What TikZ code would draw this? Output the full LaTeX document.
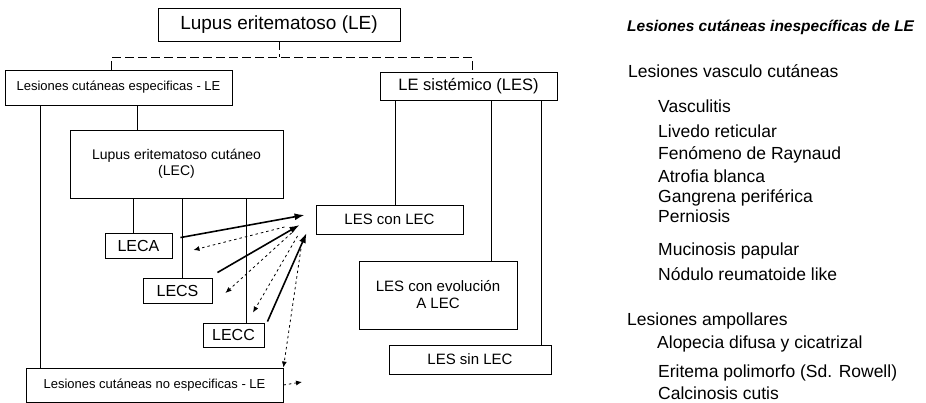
\documentclass[tikz,border=0pt]{standalone}
\usepackage{fontspec}
\setmainfont{Liberation Sans}
\usetikzlibrary{arrows.meta,positioning}

\newcommand{\setfs}[2]{\fontsize{#1}{#2}\selectfont}

\begin{document}
\begin{tikzpicture}[
  x=1pt, y=-1pt,
  box/.style={draw, line width=0.9pt, inner sep=0pt, align=center},
  link/.style={line width=1.6pt},
  tree/.style={line width=1pt, dash pattern=on 9pt off 4pt},
  arr/.style={-{Latex[length=10pt,width=7pt]}, line width=1.6pt},
  back/.style={-{Latex[length=6pt,width=5pt]}, line width=0.8pt, dash pattern=on 2.5pt off 3pt},
  item/.style={anchor=base west, inner sep=0pt, font=\setfs{17.5}{20}}
]
  \useasboundingbox (0,0) rectangle (926,403);

  % left tree
  \node[box, minimum width=242pt, minimum height=33pt, font=\setfs{19}{22}] (le) at (279,24.5) {Lupus eritematoso (LE)};
  \node[box, minimum width=227pt, minimum height=35pt, font=\setfs{13}{15}] (lce) at (118.5,87.5) {Lesiones cutáneas especificas - LE};
  \node[box, minimum width=177pt, minimum height=28pt, font=\setfs{16.5}{19}] (les) at (468.5,86) {LE sistémico (LES)};
  \node[box, minimum width=213pt, minimum height=68pt, font=\setfs{14}{16}] (lec) at (176.5,164) {Lupus eritematoso cutáneo\\(LEC)};
  \node[box, minimum width=67pt, minimum height=25pt, font=\setfs{16}{18}] (leca) at (138.5,245.5) {LECA};
  \node[box, minimum width=69pt, minimum height=25pt, font=\setfs{16}{18}] (lecs) at (177.5,290.5) {LECS};
  \node[box, minimum width=61pt, minimum height=24pt, font=\setfs{16}{18}] (lecc) at (233.5,335) {LECC};
  \node[box, minimum width=257pt, minimum height=34pt, font=\setfs{13}{15}] (lcne) at (154.5,385) {Lesiones cutáneas no especificas - LE};
  \node[box, minimum width=147pt, minimum height=29pt, font=\setfs{15}{17}] (lescon) at (389.5,219.5) {LES con LEC};
  \node[box, minimum width=158pt, minimum height=68pt, font=\setfs{15}{17}] (lesevo) at (438,295) {LES con evolución\\A LEC};
  \node[box, minimum width=162pt, minimum height=29pt, font=\setfs{15}{17}] (lessin) at (470,359.5) {LES sin LEC};

  \coordinate[below=16pt of le] (fork);
  \draw[tree] (le.south) -- (fork);
  \draw[tree] ([xshift=107pt]lce.north west) |- (fork) -| ([xshift=93pt]les.north west);

  \draw[link] ([xshift=36pt]lce.south west) -- ([xshift=15pt]lcne.north west);
  \draw[link] ([xshift=133pt]lce.south west) -- ([xshift=68pt]lec.north west);
  \draw[link] ([xshift=64pt]lec.south west) -- ([xshift=29pt]leca.north west);
  \draw[link] ([xshift=113pt]lec.south west) -- ([xshift=40pt]lecs.north west);
  \draw[link] ([xshift=177pt]lec.south west) -- ([xshift=44pt]lecc.north west);
  \draw[link] ([xshift=16pt]les.south west) -- ([xshift=80pt]lescon.north west);
  \draw[link] ([xshift=112pt]les.south west) -- ([xshift=133pt]lesevo.north west);
  \draw[link] ([xshift=162pt]les.south west) -- ([xshift=153pt]lessin.north west);

  % LEC forms into LES con LEC
  \draw[arr] ([shift={(8,5)}]leca.north east) -- ([shift={(-11,-4.5)}]lescon.west);
  \draw[arr] ([shift={(5,-5)}]lecs.north east) -- ([shift={(-16,5.5)}]lescon.west);
  \draw[arr] ([shift={(3,-1)}]lecc.north east) -- ([shift={(-9,13.5)}]lescon.west);

  \draw[back] ([shift={(-31,7.5)}]lescon.west) -- ([shift={(21,4.5)}]leca.east);
  \draw[back] ([shift={(-24,13.5)}]lescon.west) -- ([shift={(13,2.5)}]lecs.east);
  \draw[back] ([shift={(-18,16.5)}]lescon.west) -- ([shift={(19.5,-10)}]lecc.north);
  \draw[back] ([shift={(-13,18.5)}]lescon.west) -- (lcne.north east);
  \coordinate (toList) at (302,382);
  \draw[back] (lcne.east) -- (toList);

  % list on the right
  \node[anchor=base west, inner sep=0pt, font=\setfs{15.5}{18}\bfseries\itshape] (title) at (627,32) {Lesiones cutáneas inespecíficas de LE};
  \node[item] (vascu) at (628,78) {Lesiones vasculo cutáneas};
  \node[item] (vasculitis) at (658,113) {Vasculitis};
  \node[item] (livedo) at (658,138) {Livedo reticular};
  \node[item] (raynaud) at (658,160) {Fenómeno de Raynaud};
  \node[item] (atrofia) at (658,183) {Atrofia blanca};
  \node[item] (gangrena) at (658,203) {Gangrena periférica};
  \node[item] (perniosis) at (658,223) {Perniosis};
  \node[item] (mucinosis) at (658,256) {Mucinosis papular};
  \node[item] (nodulo) at (658,281) {Nódulo reumatoide like};
  \node[item] (ampoll) at (627,325) {Lesiones ampollares};
  \node[item] (alopecia) at (657,348) {Alopecia difusa y cicatrizal};
  \node[item] (eritema) at (658,377) {Eritema polimorfo (Sd. Rowell)};
  \node[item] (calcinosis) at (658,399) {Calcinosis cutis};
\end{tikzpicture}
\end{document}
